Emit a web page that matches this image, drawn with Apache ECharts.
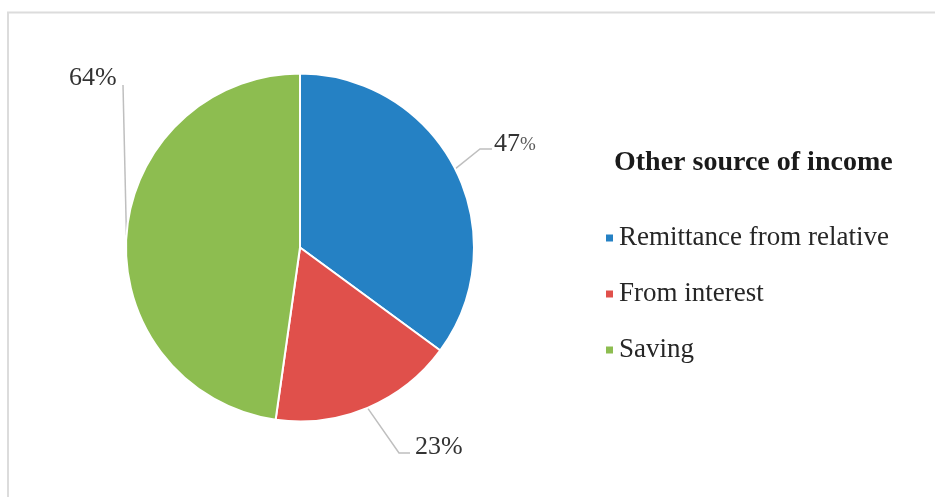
<!DOCTYPE html>
<html>
<head>
<meta charset="utf-8">
<script src="https://cdn.jsdelivr.net/npm/echarts@6/dist/echarts.min.js"></script>
<style>
html,body{margin:0;padding:0;background:#fff;}
#c{width:935px;height:497px;}
</style>
</head>
<body>
<div id="c"></div>
<script>
var categories = ['Remittance from relative', 'From interest', 'Saving'];
var values = [47, 23, 64];
var labelTexts = ['47', '23', '64'];
var colors = ['#2581c4', '#e0504b', '#8dbd50'];
var legendTitle = 'Other source of income';

// label placement (layout only)
var labelPos = [
  {x: 494, y: 144, elbow: [480, 149], end: [492, 149]},
  {x: 415, y: 447, elbow: [399, 453], end: [410, 453]},
  {x: 69, y: 78, elbow: [123, 85], end: [123, 85]}
];

var FONT = '"Liberation Serif", "Times New Roman", serif';
var chart = echarts.init(document.getElementById('c'));
var data = categories.map(function (n, i) {
  return {name: n, value: values[i], itemStyle: {color: colors[i]}};
});
chart.setOption({
  animation: false,
  backgroundColor: '#fff',
  graphic: [{
    type: 'rect', silent: true, z: -10,
    shape: {x: 8, y: 12.5, width: 1000, height: 1000},
    style: {fill: null, stroke: '#dcdcdc', lineWidth: 2}
  }],
  title: {
    text: legendTitle,
    left: 614, top: 148, padding: 0,
    textStyle: {fontFamily: FONT, fontSize: 28, fontWeight: 'bold', color: '#1a1a1a', lineHeight: 30}
  },
  legend: {
    orient: 'vertical',
    left: 604, top: 224, padding: 0,
    itemWidth: 9, itemHeight: 9, itemGap: 28,
    icon: 'rect',
    data: categories,
    textStyle: {fontFamily: FONT, fontSize: 27, color: '#262626', lineHeight: 28}
  },
  series: [{
    type: 'pie',
    center: [300, 247.5],
    radius: 174,
    startAngle: 90,
    clockwise: true,
    data: data,
    itemStyle: {borderColor: '#fff', borderWidth: 2},
    label: {
      show: true,
      position: 'outside',
      formatter: function (p) {
        return p.dataIndex === 0 ? '{n|' + labelTexts[0] + '}{p|%}' : '{n|' + labelTexts[p.dataIndex] + '%}';
      },
      rich: {
        n: {fontFamily: FONT, fontSize: 26, color: '#333333'},
        p: {fontFamily: FONT, fontSize: 19, color: '#595959', verticalAlign: 'bottom', padding: [0, 0, 2, 0]}
      }
    },
    labelLine: {show: true, length: 20, length2: 12, lineStyle: {color: '#bfbfbf', width: 1.5}},
    labelLayout: function (params) {
      var lp = labelPos[params.dataIndex];
      var start = (params.labelLinePoints && params.labelLinePoints[0]) || lp.elbow;
      return {
        x: lp.x, y: lp.y, align: 'left', verticalAlign: 'middle',
        labelLinePoints: [start, lp.elbow, lp.end]
      };
    },
    emphasis: {disabled: true}
  }]
});
</script>
</body>
</html>
